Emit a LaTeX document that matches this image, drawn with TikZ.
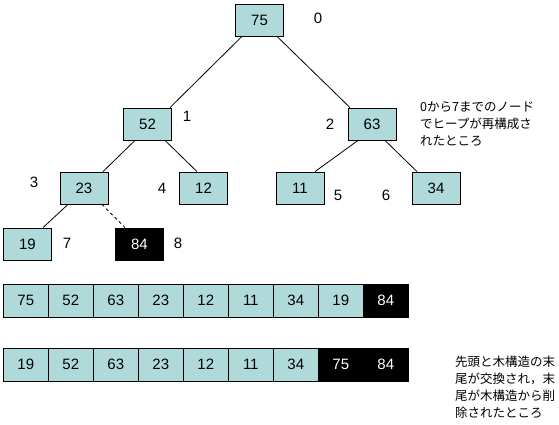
\documentclass[tikz,border=0pt]{standalone}
\usepackage{fontspec}
\setmainfont{Liberation Sans}
\newfontfamily\jpfont{Noto Sans CJK JP}
\usetikzlibrary{positioning}
\definecolor{heapcyan}{RGB}{176, 218, 218}
\tikzset{
  heap/.style={
    draw, line width=0.8pt, fill=heapcyan,
    minimum width=48pt,
    minimum height=32pt,
    inner sep=0pt,
    font=\fontsize{15}{18}\selectfont
  },
  cell/.style={
    draw, line width=0.8pt, fill=heapcyan,
    minimum width=45pt,
    minimum height=33pt,
    inner sep=0pt,
    font=\fontsize{15}{18}\selectfont
  },
  done/.style={fill=black, text=white},
  idx/.style={font=\fontsize{15}{18}\selectfont, inner sep=0pt},
  note/.style={font=\jpfont\fontsize{12.5}{17}\selectfont, align=left, anchor=west, inner sep=0pt},
  edge/.style={line width=0.8pt}
}

\begin{document}
\begin{tikzpicture}[x=1pt, y=-1pt]
\useasboundingbox (0,0) rectangle (559,424);

% Tree nodes
\node[heap] (n0) at (259.5, 20) {75};
\node[heap] (n1) at (147.5, 124) {52};
\node[heap] (n2) at (372, 124) {63};
\node[heap] (n3) at (84, 188) {23};
\node[heap] (n4) at (203.5, 188) {12};
\node[heap] (n5) at (300, 188) {11};
\node[heap] (n6) at (436, 188) {34};
\node[heap] (n7) at (27.5, 244) {19};
\node[heap, done] (n8) at (139.5, 244) {84};

% Indices
\node[idx] (i0) at (318, 18) {0};
\node[idx] (i1) at (187, 116) {1};
\node[idx] (i2) at (330, 124) {2};
\node[idx] (i3) at (34, 182) {3};
\node[idx] (i4) at (162, 188) {4};
\node[idx] (i5) at (338, 195) {5};
\node[idx] (i6) at (386, 195) {6};
\node[idx] (i7) at (67, 243) {7};
\node[idx] (i8) at (178, 243) {8};

% Edges
\draw[edge] ([xshift=-17.5pt]n0.south) -- ([xshift=22.5pt]n1.north);
\draw[edge] ([xshift=17.5pt]n0.south) -- ([xshift=-22pt]n2.north);
\draw[edge] ([xshift=-12.5pt]n1.south) -- ([xshift=19pt]n3.north);
\draw[edge] ([xshift=17.5pt]n1.south) -- ([xshift=-6.5pt]n4.north);
\draw[edge] ([xshift=-14pt]n2.south) -- ([xshift=15pt]n5.north);
\draw[edge] ([xshift=13pt]n2.south) -- ([xshift=-19pt]n6.north);
\draw[edge] ([xshift=-16pt]n3.south) -- ([xshift=15.5pt]n7.north);
\draw[edge, dashed] ([xshift=18pt]n3.south) -- ([xshift=-14.5pt]n8.north);

% Array before swap
\node[cell] (a1) at (25.8, 300.5) {75};
\node[cell] (a2) at (70.8, 300.5) {52};
\node[cell] (a3) at (115.8, 300.5) {63};
\node[cell] (a4) at (160.8, 300.5) {23};
\node[cell] (a5) at (205.8, 300.5) {12};
\node[cell] (a6) at (250.8, 300.5) {11};
\node[cell] (a7) at (295.8, 300.5) {34};
\node[cell] (a8) at (340.8, 300.5) {19};
\node[cell, done] (a9) at (385.8, 300.5) {84};

% Array after swap
\node[cell] (b1) at (25.8, 364.5) {19};
\node[cell] (b2) at (70.8, 364.5) {52};
\node[cell] (b3) at (115.8, 364.5) {63};
\node[cell] (b4) at (160.8, 364.5) {23};
\node[cell] (b5) at (205.8, 364.5) {12};
\node[cell] (b6) at (250.8, 364.5) {11};
\node[cell] (b7) at (295.8, 364.5) {34};
\node[cell, done] (b8) at (340.8, 364.5) {75};
\node[cell, done] (b9) at (385.8, 364.5) {84};

% Notes
\node[note] (noteA) at (420, 124) {0から7までのノード\\でヒープが再構成さ\\れたところ};
\node[note] (noteB) at (455, 387.5) {先頭と木構造の末\\尾が交換され，末\\尾が木構造から削\\除されたところ};

\end{tikzpicture}
\end{document}
